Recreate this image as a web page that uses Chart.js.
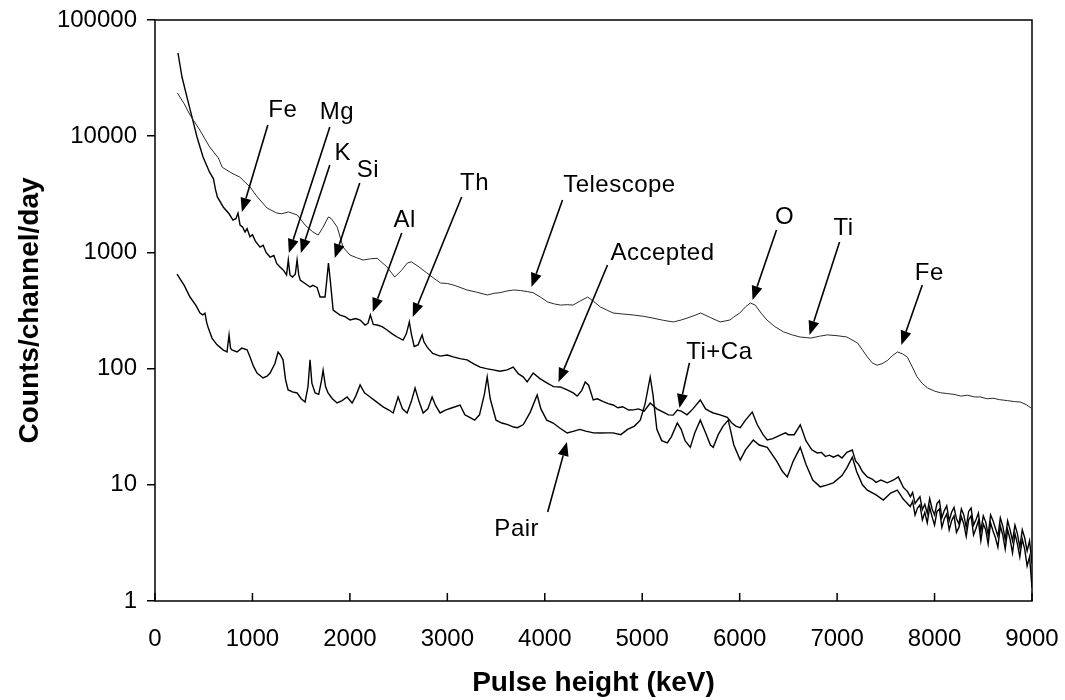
<!DOCTYPE html>
<html>
<head>
<meta charset="utf-8">
<script src="https://cdn.jsdelivr.net/npm/chart.js@4.4.0/dist/chart.umd.min.js"></script>
<style>
  html, body { margin: 0; padding: 0; background: #fff; }
  #wrap { width: 1065px; height: 700px; }
</style>
</head>
<body>
<div id="wrap"><canvas id="spectrum" width="1065" height="700"></canvas></div>
<script>
// Spectrum values (keV vs counts/channel/day)
const telescopeKeV = [
  230, 300, 360, 460, 560, 650, 690, 790, 870, 975,
  1050, 1150, 1250, 1300, 1370, 1460, 1540, 1620, 1675, 1725,
  1780, 1810, 1870, 1930, 2000, 2070, 2135, 2210, 2280, 2380,
  2460, 2530, 2590, 2630, 2700, 2790, 2860, 2930, 3000, 3060,
  3130, 3200, 3300, 3410, 3480, 3540, 3610, 3680, 3750, 3820,
  3880, 3960, 4030, 4100, 4160, 4230, 4290, 4360, 4440, 4500,
  4570, 4640, 4700, 4800, 4910, 5010, 5110, 5220, 5320, 5400,
  5460, 5530, 5600, 5700, 5800, 5900, 5940, 6000, 6060, 6110,
  6160, 6220, 6280, 6360, 6450, 6540, 6620, 6730, 6820, 6900,
  7000, 7100, 7210, 7260, 7310, 7360, 7410, 7460, 7520, 7570,
  7620, 7670, 7720, 7770, 7820, 7870, 7930, 8000, 8060, 8130,
  8200, 8270, 8340, 8410, 8470, 8540, 8600, 8670, 8750, 8820,
  8880, 8940, 8990
];
const telescopeCounts = [
  23500, 19000, 15200, 11300, 8100, 6500, 5400, 4800, 4450, 3660,
  3000, 2410, 2180, 2150, 2230, 2100, 1720, 1500, 1410, 1650,
  2020, 1950, 1650, 1110, 950, 900, 860, 880, 890, 750,
  614, 700, 811, 830, 760, 665, 600, 545, 540, 524,
  500, 475, 455, 430, 445, 450, 465, 475, 470, 460,
  450, 410, 374, 360, 352, 355, 352, 380, 413, 380,
  339, 318, 301, 295, 289, 282, 272, 260, 252, 262,
  272, 285, 301, 275, 252, 262, 278, 300, 340, 367,
  352, 300, 262, 230, 207, 195, 187, 183, 190, 195,
  192, 187, 166, 145, 126, 112, 107, 110, 118, 130,
  139, 134, 126, 104, 85, 75, 68, 64, 62, 61,
  60, 58, 59, 57, 57, 55, 55.6, 54, 53, 52,
  51.6, 49, 45.8
];

const acceptedKeV = [
  236, 277, 328, 380, 431, 493, 560, 600, 620, 640,
  700, 760, 800, 830, 852, 873, 900, 924, 945, 975,
  1000, 1030, 1078, 1110, 1140, 1181, 1220, 1250, 1283, 1320,
  1350, 1368, 1385, 1410, 1440, 1458, 1475, 1490, 1540, 1591,
  1620, 1663, 1694, 1745, 1765, 1780, 1800, 1828, 1899, 1950,
  2002, 2060, 2105, 2156, 2185, 2210, 2240, 2280, 2330, 2382,
  2430, 2485, 2546, 2580, 2610, 2630, 2660, 2700, 2741, 2760,
  2793, 2850, 2926, 3000, 3060, 3130, 3203, 3270, 3337, 3400,
  3470, 3540, 3614, 3676, 3730, 3778, 3819, 3881, 3950, 4025,
  4090, 4158, 4230, 4292, 4333, 4380, 4415, 4450, 4497, 4540,
  4600, 4650, 4702, 4750, 4800, 4860, 4908, 4960, 5020, 5082,
  5150, 5220, 5270, 5318, 5360, 5400, 5460, 5520, 5596, 5650,
  5690, 5729, 5800, 5873, 5920, 5960, 6006, 6060, 6129, 6180,
  6240, 6283, 6340, 6417, 6470, 6500, 6560, 6622, 6680, 6740,
  6796, 6840, 6880, 6920, 6961, 7010, 7050, 7100, 7156, 7190,
  7220, 7260, 7310, 7360, 7400, 7450, 7515, 7580, 7628, 7680,
  7720, 7752
];
const acceptedCounts = [
  52000, 32300, 21700, 14600, 9840, 6620, 4900, 4300, 3500, 3000,
  2460, 2150, 1900, 1950, 2180, 1720, 1650, 1500, 1600, 1360,
  1420, 1250, 1110, 1150, 1000, 912, 940, 800, 748, 700,
  640, 860, 640, 613, 650, 860, 640, 578, 540, 504,
  520, 500, 413, 413, 600, 811, 560, 319, 289, 280,
  262, 270, 262, 237, 245, 289, 240, 237, 230, 215,
  200, 187, 176, 200, 252, 200, 155, 160, 195, 170,
  153, 135, 128, 131, 126, 122, 119, 110, 103, 100,
  97.5, 95, 97.5, 103, 90, 85, 77, 91.6, 82, 75,
  70, 69.5, 65.5, 61.7, 58, 65, 76.7, 72, 53.7, 55,
  52, 50, 48.6, 46, 47, 44, 44.1, 45, 43, 50.6,
  45, 42, 40, 39.8, 44, 43, 40, 45, 53.7, 45,
  43, 41.5, 40, 38, 34, 32, 31, 36, 42.3, 33,
  27, 24.3, 25, 26.8, 28, 27, 27, 32.8, 24, 20,
  18.8, 19, 17.5, 18, 17.3, 18, 17, 19, 19.9, 16,
  15, 13, 11.7, 11.2, 10.5, 11, 10.4, 11, 11.7, 9.5,
  8.8, 7.9
];

const pairKeV = [
  226, 300, 359, 420, 462, 490, 513, 530, 544, 585,
  637, 698, 739, 760, 775, 790, 842, 890, 945, 975,
  1010, 1047, 1109, 1150, 1181, 1230, 1263, 1290, 1314, 1340,
  1366, 1410, 1458, 1500, 1540, 1570, 1591, 1610, 1643, 1680,
  1710, 1725, 1750, 1776, 1820, 1869, 1920, 1971, 2023, 2060,
  2105, 2150, 2207, 2270, 2341, 2400, 2444, 2495, 2540, 2587,
  2630, 2669, 2710, 2752, 2800, 2844, 2880, 2926, 2980, 3050,
  3131, 3180, 3230, 3280, 3330, 3380, 3409, 3440, 3500, 3560,
  3620, 3680, 3720, 3780, 3850, 3922, 3960, 4020, 4086, 4150,
  4230, 4300, 4360, 4420, 4500, 4570, 4640, 4700, 4780, 4850,
  4920, 4980, 5030, 5082, 5110, 5150, 5200, 5257, 5300, 5360,
  5400, 5440, 5493, 5540, 5596, 5650, 5700, 5729, 5780, 5830,
  5883, 5940, 6006, 6060, 6140, 6200, 6283, 6380, 6440, 6489,
  6550, 6622, 6680, 6750, 6827, 6900, 6961, 7050, 7100, 7156,
  7200, 7260, 7310, 7400, 7474, 7550, 7618, 7680, 7750
];
const pairCounts = [
  650, 520, 413, 350, 301, 290, 300, 250, 228, 183,
  160, 145, 139, 195, 150, 145, 139, 150, 145, 126,
  105, 91.6, 83, 86, 91.6, 110, 139, 130, 119, 80,
  65.5, 63, 61.7, 55, 51.6, 70, 119, 75, 61.7, 60,
  80, 97, 70, 61.7, 55, 50.6, 53, 57, 50.6, 58,
  72.3, 62, 57, 52, 46.8, 44, 41.5, 57, 45, 41.5,
  52, 68, 52, 41.5, 45, 57, 48, 41.5, 44, 46,
  48.6, 40, 38, 36, 40, 60, 84.7, 55, 36, 34,
  33, 31.4, 31, 33, 42, 59.3, 45, 36, 34, 31,
  27.9, 29, 30, 29, 28, 27.9, 28, 28, 27, 30,
  32, 36, 50, 84.7, 60, 30, 24, 22.9, 26, 34,
  30, 24, 21, 28, 36, 28, 22, 21, 27, 32,
  36, 22, 16.3, 20, 24.3, 22, 21, 16, 13, 11.7,
  16, 21, 15, 11, 9.6, 10, 10.4, 12, 14, 17.3,
  13, 10, 9, 8.2, 7.4, 8.5, 9, 7.5, 6.5
];

// noisy high-energy tail, where Accepted and Pair run together
const tailKeV = [
  7775, 7800, 7825, 7850, 7875, 7900, 7925, 7950, 7975, 8000,
  8025, 8050, 8075, 8100, 8125, 8150, 8175, 8200, 8225, 8250,
  8275, 8300, 8325, 8350, 8375, 8400, 8425, 8450, 8475, 8500,
  8525, 8550, 8575, 8600, 8625, 8650, 8675, 8700, 8725, 8750,
  8775, 8800, 8825, 8850, 8875, 8900, 8925, 8950, 8975, 9000
];
const acceptedTail = [
  8.6, 6.9, 7.4, 7.9, 6.1, 6.8, 5.7, 7.6, 6.2, 5.5,
  6.9, 7.3, 5.2, 6.0, 6.6, 4.9, 5.8, 6.4, 5.1, 4.6,
  6.2, 5.5, 4.3, 5.9, 6.3, 4.5, 5.0, 5.7, 4.0, 5.4,
  4.8, 3.7, 5.5, 4.9, 4.2, 3.6, 5.2, 4.4, 3.4, 4.9,
  4.1, 3.3, 4.5, 3.8, 2.9, 4.1, 3.5, 2.7, 3.3, 2.1
];
const pairTail = [
  7.2, 5.5, 6.3, 6.7, 5.0, 5.8, 4.7, 6.4, 5.3, 4.5,
  5.9, 6.2, 4.3, 5.1, 5.6, 4.1, 4.9, 5.4, 3.9, 4.3,
  5.3, 4.6, 3.6, 5.0, 5.4, 3.7, 4.2, 4.9, 3.3, 4.6,
  4.1, 3.1, 4.7, 4.0, 3.5, 2.9, 4.4, 3.7, 2.8, 4.1,
  3.4, 2.6, 3.8, 3.1, 2.4, 3.4, 2.8, 2.0, 2.4, 1.3
];

const yTickValues = [1, 10, 100, 1000, 10000, 100000];

// label text position, arrow tail and arrow tip, all in data units
const peakLabels = [
  { text: 'Fe', tx: 1312, ty: 16800, ax: 1158, ay: 12500, bx: 892, by: 2230 },
  { text: 'Mg', tx: 1866, ty: 16100, ax: 1794, ay: 12000, bx: 1374, by: 988 },
  { text: 'K', tx: 1927, ty: 7170, ax: 1794, ay: 5650, bx: 1497, by: 988 },
  { text: 'Si', tx: 2184, ty: 5120, ax: 2101, ay: 3960, bx: 1845, by: 895 },
  { text: 'Al', tx: 2563, ty: 1900, ax: 2532, ay: 1470, bx: 2235, by: 307 },
  { text: 'Th', tx: 3280, ty: 3960, ax: 3147, ay: 3000, bx: 2645, by: 278 },
  { text: 'Telescope', tx: 4766, ty: 3800, ax: 4182, ay: 2820, bx: 3864, by: 504 },
  { text: 'Accepted', tx: 5208, ty: 988, ax: 4644, ay: 779, bx: 4141, by: 76.7 },
  { text: 'Ti+Ca', tx: 5792, ty: 139, ax: 5484, ay: 112, bx: 5382, by: 45.8 },
  { text: 'Pair', tx: 3712, ty: 4.17, ax: 4030, ay: 5.83, bx: 4227, by: 23.4 },
  { text: 'O', tx: 6460, ty: 2020, ax: 6378, ay: 1560, bx: 6132, by: 389 },
  { text: 'Ti', tx: 7066, ty: 1620, ax: 7025, ay: 1230, bx: 6717, by: 195 },
  { text: 'Fe', tx: 7946, ty: 665, ax: 7874, ay: 524, bx: 7659, by: 160 }
];

function toPoints(xs, ys) {
  return xs.map((x, i) => ({ x: x, y: ys[i] }));
}

function drawArrow(ctx, x1, y1, x2, y2) {
  const ang = Math.atan2(y2 - y1, x2 - x1);
  const len = 14, half = 5.5;
  const bx = x2 - len * Math.cos(ang);
  const by = y2 - len * Math.sin(ang);
  ctx.lineWidth = 1.6;
  ctx.beginPath();
  ctx.moveTo(x1, y1);
  ctx.lineTo(bx, by);
  ctx.stroke();
  ctx.beginPath();
  ctx.moveTo(x2, y2);
  ctx.lineTo(bx + half * Math.sin(ang), by - half * Math.cos(ang));
  ctx.lineTo(bx - half * Math.sin(ang), by + half * Math.cos(ang));
  ctx.closePath();
  ctx.fill();
}

// frame, inward x ticks and the peak labels
const spectrumDecor = {
  id: 'spectrumDecor',
  afterDatasetsDraw(chart) {
    const ctx = chart.ctx;
    const xs = chart.scales.x;
    const ys = chart.scales.y;
    const area = chart.chartArea;
    ctx.save();
    ctx.strokeStyle = '#000';
    ctx.fillStyle = '#000';
    ctx.lineWidth = 1.5;
    ctx.strokeRect(area.left, area.top, area.right - area.left, area.bottom - area.top);

    ctx.beginPath();
    xs.ticks.forEach(t => {
      const px = xs.getPixelForValue(t.value);
      ctx.moveTo(px, area.bottom);
      ctx.lineTo(px, area.bottom - 8);
    });
    ctx.stroke();

    ctx.font = '24px "Liberation Sans", Arial, sans-serif';
    ctx.textAlign = 'center';
    ctx.textBaseline = 'middle';
    if ('letterSpacing' in ctx) ctx.letterSpacing = '0.5px';
    peakLabels.forEach(l => {
      ctx.fillText(l.text, xs.getPixelForValue(l.tx), ys.getPixelForValue(l.ty));
      drawArrow(ctx,
        xs.getPixelForValue(l.ax), ys.getPixelForValue(l.ay),
        xs.getPixelForValue(l.bx), ys.getPixelForValue(l.by));
    });
    ctx.restore();
  }
};

Chart.defaults.font.family = '"Liberation Sans", Arial, sans-serif';
Chart.defaults.color = '#000';

new Chart(document.getElementById('spectrum'), {
  type: 'line',
  data: {
    datasets: [
      {
        label: 'Telescope',
        data: toPoints(telescopeKeV, telescopeCounts),
        borderColor: '#2a2a2a',
        borderWidth: 1
      },
      {
        label: 'Accepted',
        data: toPoints(acceptedKeV.concat(tailKeV), acceptedCounts.concat(acceptedTail)),
        borderColor: '#000',
        borderWidth: 1.4
      },
      {
        label: 'Pair',
        data: toPoints(pairKeV.concat(tailKeV), pairCounts.concat(pairTail)),
        borderColor: '#000',
        borderWidth: 1.4
      }
    ]
  },
  options: {
    responsive: false,
    animation: false,
    layout: { padding: { top: 20, right: 33, left: 0, bottom: 0 } },
    elements: {
      point: { radius: 0 },
      line: { tension: 0 }
    },
    plugins: {
      legend: { display: false },
      tooltip: { enabled: false }
    },
    scales: {
      x: {
        type: 'linear',
        min: 0,
        max: 9000,
        ticks: {
          stepSize: 1000,
          autoSkip: false,
          maxRotation: 0,
          padding: 16,
          font: { size: 24 },
          callback: v => String(v)
        },
        grid: { display: false },
        border: { display: false },
        title: {
          display: true,
          text: 'Pulse height (keV)',
          font: { size: 28, weight: 'bold' },
          padding: { top: 0, bottom: 0 }
        },
        afterFit: s => {
          s.height = 99;
          s.paddingLeft = 0;
          s.paddingRight = 0;
        }
      },
      y: {
        type: 'logarithmic',
        min: 1,
        max: 100000,
        afterBuildTicks: s => { s.ticks = yTickValues.map(v => ({ value: v })); },
        ticks: {
          padding: 10,
          font: { size: 24 },
          callback: v => String(v)
        },
        grid: {
          drawOnChartArea: false,
          tickLength: 8,
          color: '#000',
          lineWidth: 1.5
        },
        border: { display: false },
        title: {
          display: true,
          text: 'Counts/channel/day',
          font: { size: 28, weight: 'bold' },
          padding: { top: 13, bottom: 0 }
        },
        afterFit: s => {
          s.width = 155;
          s.paddingTop = 0;
          s.paddingBottom = 0;
        }
      }
    }
  },
  plugins: [spectrumDecor]
});
</script>
</body>
</html>
